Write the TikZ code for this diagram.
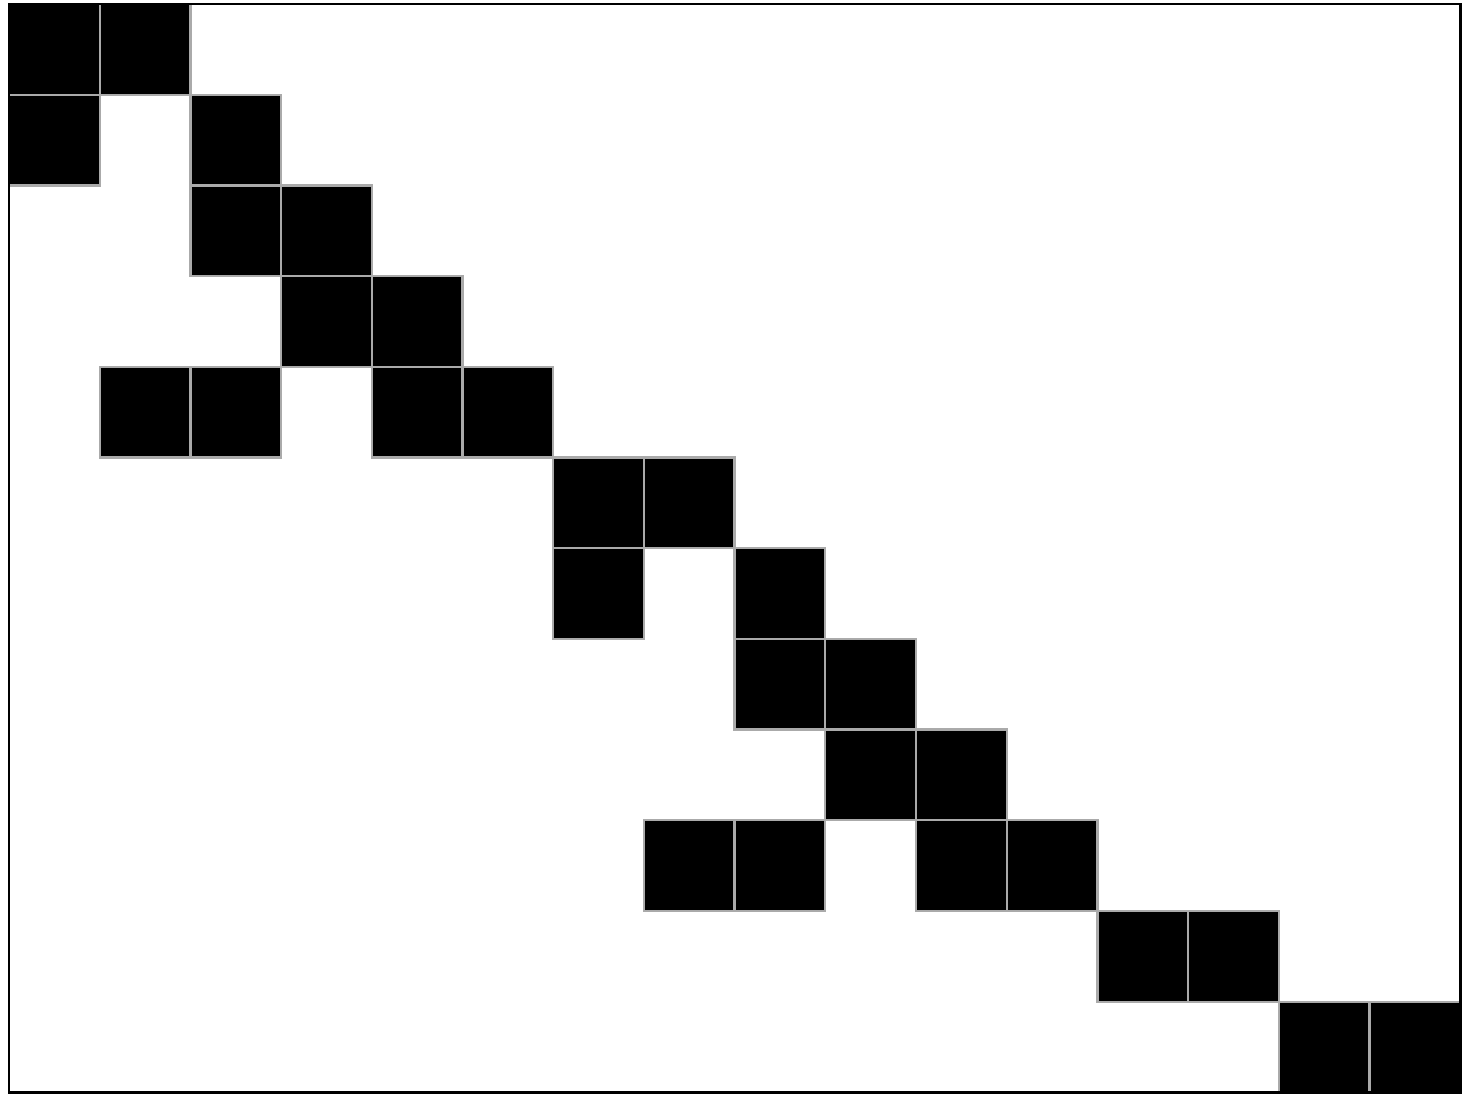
\documentclass[tikz,border=0pt]{standalone}
\begin{document}
\begin{tikzpicture}[x=1cm,y=-1cm,
  cellbox/.style={fill=black,draw={rgb,255:red,170;green,170;blue,170},line width=0.7pt},
  framebox/.style={draw=black,line width=0.9pt}]
\useasboundingbox (-0.099,-0.044) rectangle (16.108,12.106);
\foreach \c/\r in {0/0,1/0,0/1,2/1,2/2,3/2,3/3,4/3,1/4,2/4,4/4,5/4,
  6/5,7/5,6/6,8/6,8/7,9/7,9/8,10/8,7/9,8/9,10/9,11/9,12/10,13/10,14/11,15/11}
  \draw[cellbox] (\c,\r) rectangle ++(1,1);
\draw[framebox] (0,0) rectangle (16,12);
\end{tikzpicture}
\end{document}
